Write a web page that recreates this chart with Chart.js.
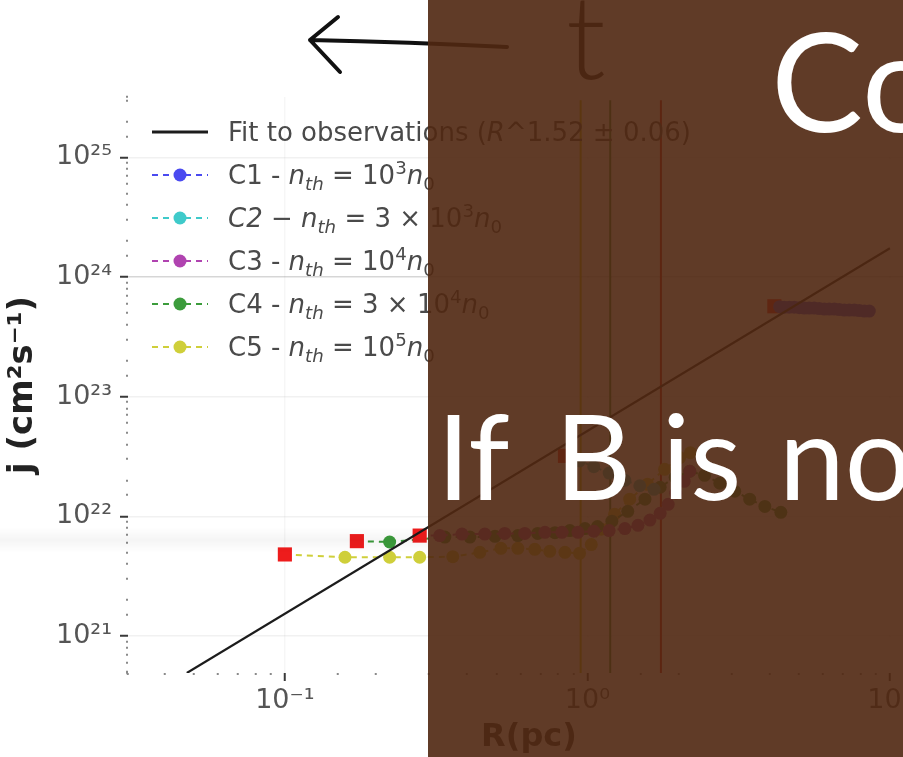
<!DOCTYPE html>
<html>
<head>
<meta charset="utf-8">
<script src="https://cdn.jsdelivr.net/npm/chart.js@4"></script>
<style>
  html, body { margin: 0; padding: 0; width: 903px; height: 757px; overflow: hidden; background: #fff; }
  #wrap { position: absolute; left: 0; top: 0; width: 980px; height: 757px; }
  #band { position: absolute; left: 0; top: 527px; width: 428px; height: 26px;
          background: linear-gradient(rgba(0,0,0,0), rgba(0,0,0,0.04), rgba(0,0,0,0)); }
  .layer { position: absolute; left: 0; top: 0; }
  #shade { position: absolute; left: 428px; top: 0; width: 475px; height: 757px; background: rgba(80,40,18,0.91); }
</style>
</head>
<body>
<div id="wrap"><canvas id="chart" width="980" height="757"></canvas></div>
<div id="band"></div>
<svg class="layer" width="903" height="120">
  <path d="M338,17 L310,40 L340,72 M310,40 Q410,42 507,47" fill="none" stroke="#111" stroke-width="4" stroke-linecap="round" stroke-linejoin="round"/>
  <text x="566" y="79" font-family="Lato, sans-serif" font-weight="300" font-size="116" fill="#1a1a1a">t</text>
</svg>
<div id="shade"></div>
<svg class="layer" width="903" height="757">
  <text x="771" y="132" font-family="Lato, sans-serif" font-size="138" fill="#fff">Co</text>
  <text y="500" font-family="Lato, sans-serif" font-size="118" fill="#fff"><tspan x="437">If </tspan><tspan x="555">B </tspan><tspan x="662">is </tspan><tspan x="779">no</tspan></text>
</svg>
<script>
// Observational fit j ∝ R^1.52
const fitR = [0.0474, 10];
const fitJ = [4.9e20, 1.74e24];

// Model runs: radius R (pc) and j (cm^2 s^-1); first entry of each run is the red square
const c1R = [4.15, 4.32, 4.48, 4.65, 4.83, 5.02, 5.21, 5.41, 5.62, 5.84, 6.07, 6.30, 6.55, 6.80, 7.07, 7.34, 7.63, 7.92, 8.24, 8.55];
const c1J = [5.7e23, 5.65e23, 5.6e23, 5.6e23, 5.6e23, 5.55e23, 5.5e23, 5.5e23, 5.5e23, 5.45e23, 5.4e23, 5.4e23, 5.4e23, 5.35e23, 5.3e23, 5.3e23, 5.3e23, 5.25e23, 5.2e23, 5.2e23];

const c2R = [0.843, 0.942, 1.05, 1.18, 1.33, 1.49, 1.66];
const c2J = [3.2e22, 2.9e22, 2.6e22, 2.3e22, 2.0e22, 1.8e22, 1.68e22];

const c3R = [0.279, 0.325, 0.385, 0.458, 0.533, 0.621, 0.724, 0.824, 0.931, 1.05, 1.18, 1.33, 1.47, 1.61, 1.74, 1.85, 1.96, 2.09, 2.18];
const c3J = [6.9e21, 6.9e21, 7.1e21, 7.1e21, 7.2e21, 7.2e21, 7.35e21, 7.35e21, 7.35e21, 7.5e21, 7.6e21, 7.9e21, 8.4e21, 9.3e21, 1.06e22, 1.26e22, 1.56e22, 1.96e22, 2.38e22];

const c4R = [0.173, 0.222, 0.338, 0.409, 0.495, 0.589, 0.685, 0.781, 0.875, 0.982, 1.08, 1.205, 1.36, 1.55, 1.74, 1.95, 2.18, 2.44, 2.74, 3.07, 3.44, 3.86, 4.36];
const c4J = [6.2e21, 6.1e21, 6.7e21, 6.7e21, 6.8e21, 6.9e21, 7.2e21, 7.3e21, 7.6e21, 7.9e21, 8.2e21, 9.1e21, 1.10e22, 1.39e22, 1.75e22, 2.12e22, 2.38e22, 2.2e22, 1.89e22, 1.62e22, 1.39e22, 1.21e22, 1.08e22];

const c5R = [0.100, 0.158, 0.222, 0.279, 0.359, 0.441, 0.518, 0.589, 0.670, 0.751, 0.843, 0.942, 1.03, 1.11, 1.23, 1.38, 1.58, 1.80, 2.02, 2.19];
const c5J = [4.8e21, 4.55e21, 4.55e21, 4.55e21, 4.6e21, 5.0e21, 5.4e21, 5.4e21, 5.3e21, 5.1e21, 5.0e21, 4.9e21, 5.8e21, 7.8e21, 1.04e22, 1.39e22, 1.85e22, 2.47e22, 3.1e22, 3.4e22];

// Vertical markers at characteristic radii
const markR = [0.95, 1.19, 1.75];
const markColors = ['#c2c200', '#2f8a2f', '#d01010'];
const markTop = 3.0e25;

// Axis ranges
const xMin = 0.0303, xMax = 13.57;
const yMin = 4.9e20, yMax = 3.2e25;

const seriesColors = ['#4a4af0', '#3fcaca', '#b043b0', '#3c9c3c', '#cfcf3a'];
const startColor = '#ee1c1c';

const legendLabels = [
  [['Fit to observations (', ''], ['R', 'i'], ['^1.52 ± 0.06)', '']],
  [['C1 - ', ''], ['n', 'i'], ['th', 'isub'], [' = 10', ''], ['3', 'sup'], ['n', 'i'], ['0', 'sub']],
  [['C2', 'i'], [' − ', ''], ['n', 'i'], ['th', 'isub'], [' = 3 × 10', ''], ['3', 'sup'], ['n', 'i'], ['0', 'sub']],
  [['C3 - ', ''], ['n', 'i'], ['th', 'isub'], [' = 10', ''], ['4', 'sup'], ['n', 'i'], ['0', 'sub']],
  [['C4 - ', ''], ['n', 'i'], ['th', 'isub'], [' = 3 × 10', ''], ['4', 'sup'], ['n', 'i'], ['0', 'sub']],
  [['C5 - ', ''], ['n', 'i'], ['th', 'isub'], [' = 10', ''], ['5', 'sup'], ['n', 'i'], ['0', 'sub']]
];

const pts = (R, J) => R.map((r, i) => ({ x: r, y: J[i] }));
const SUP = '⁰¹²³⁴⁵⁶⁷⁸⁹';
const sup = s => String(s).split('').map(c => c === '-' ? '⁻' : SUP['0123456789'.indexOf(c)]).join('');
const isDecade = v => { const l = Math.log10(v); return Math.abs(l - Math.round(l)) < 1e-6; };
const decadeLabel = v => isDecade(v) ? '10' + sup(Math.round(Math.log10(v))) : '';

function runDataset(R, J, color) {
  return {
    data: pts(R, J),
    showLine: true,
    borderColor: color,
    borderWidth: 2,
    borderDash: [6, 5],
    pointStyle: c => c.dataIndex === 0 ? 'rect' : 'circle',
    pointRadius: c => c.dataIndex === 0 ? 10 : 6.5,
    pointBackgroundColor: c => c.dataIndex === 0 ? startColor : color,
    pointBorderWidth: 0,
    order: 1
  };
}

const datasets = [
  { data: pts(fitR, fitJ), showLine: true, borderColor: '#1c1c1c', borderWidth: 2.2, pointRadius: 0, order: 0 },
  ...markR.map((r, i) => ({ data: pts([r, r], [markTop, yMin]), showLine: true, borderColor: markColors[i], borderWidth: 2, pointRadius: 0, order: 2 })),
  runDataset(c1R, c1J, seriesColors[0]),
  runDataset(c2R, c2J, seriesColors[1]),
  runDataset(c3R, c3J, seriesColors[2]),
  runDataset(c4R, c4J, seriesColors[3]),
  runDataset(c5R, c5J, seriesColors[4])
];

// Legend with mathematical sub/superscripts
function drawRich(ctx, x, y, segs, size) {
  const fam = '"DejaVu Sans", sans-serif';
  for (const [t, k] of segs) {
    let f = size, dy = 0, st = '';
    if (k === 'i') st = 'italic ';
    if (k === 'isub') { st = 'italic '; f = size * 0.7; dy = size * 0.22; }
    if (k === 'sub') { f = size * 0.7; dy = size * 0.22; }
    if (k === 'sup') { f = size * 0.7; dy = -size * 0.38; }
    ctx.font = st + f + 'px ' + fam;
    ctx.fillText(t, x, y + dy);
    x += ctx.measureText(t).width;
  }
}

const legendPlugin = {
  id: 'richLegend',
  afterDatasetsDraw(chart) {
    const ctx = chart.ctx;
    ctx.save();
    const x0 = 152, x1 = 208, tx = 228, y0 = 132, dy = 43;
    legendLabels.forEach((segs, i) => {
      const y = y0 + i * dy;
      ctx.lineWidth = 2.2;
      if (i === 0) {
        ctx.setLineDash([]);
        ctx.strokeStyle = '#1c1c1c';
        ctx.lineWidth = 3;
      } else {
        ctx.setLineDash([6, 5]);
        ctx.strokeStyle = seriesColors[i - 1];
      }
      ctx.beginPath(); ctx.moveTo(x0, y); ctx.lineTo(x1, y); ctx.stroke();
      if (i > 0) {
        ctx.setLineDash([]);
        ctx.fillStyle = seriesColors[i - 1];
        ctx.beginPath(); ctx.arc((x0 + x1) / 2, y, 6.5, 0, Math.PI * 2); ctx.fill();
      }
      ctx.fillStyle = '#4a4a4a';
      ctx.textBaseline = 'alphabetic';
      drawRich(ctx, tx, y + 9, segs, 26);
    });
    ctx.restore();
  }
};

const gridColor = axis => c => {
  if (!c.tick || !isDecade(c.tick.value)) return 'rgba(0,0,0,0)';
  if (axis === 'y' && Math.round(Math.log10(c.tick.value)) === 24) return 'rgba(0,0,0,0.16)';
  return axis === 'y' ? 'rgba(0,0,0,0.055)' : 'rgba(0,0,0,0.035)';
};
const tickOpts = (minorDash) => ({
  tickLength: 8,
  tickWidth: 2,
  tickColor: c => c.tick && isDecade(c.tick.value) ? '#3a3a3a' : '#8a8a8a',
  tickBorderDash: c => c.tick && isDecade(c.tick.value) ? [] : minorDash,
  lineWidth: 1.5
});

new Chart(document.getElementById('chart'), {
  type: 'scatter',
  data: { datasets },
  plugins: [legendPlugin],
  options: {
    responsive: false,
    animation: false,
    layout: { padding: { top: 97, right: 50, left: 0, bottom: 0 } },
    plugins: { legend: { display: false }, tooltip: { enabled: false } },
    scales: {
      x: {
        type: 'logarithmic', min: xMin, max: xMax,
        border: { display: false },
        grid: { color: gridColor('x'), ...tickOpts([2, 30]) },
        ticks: { autoSkip: false, maxRotation: 0, padding: 4, color: '#555',
                 font: { family: 'DejaVu Sans', size: 27 }, callback: decadeLabel },
        title: { display: true, text: 'R(pc)', color: '#333', padding: { bottom: 0, top: 0 },
                 font: { family: 'DejaVu Sans', size: 32, weight: 'bold' } },
        afterFit: s => { s.height = 84; }
      },
      y: {
        type: 'logarithmic', min: yMin, max: yMax,
        border: { display: false },
        grid: { color: gridColor('y'), ...tickOpts([0, 6, 2, 30]) },
        ticks: { autoSkip: false, padding: 8, color: '#555',
                 font: { family: 'DejaVu Sans', size: 27 }, callback: decadeLabel },
        title: { display: true, text: 'j (cm²s⁻¹)', color: '#222', padding: { top: 3, bottom: 0 },
                 font: { family: 'DejaVu Sans', size: 34, weight: 'bold' } },
        afterFit: s => { s.width = 128; }
      }
    }
  }
});
</script>
</body>
</html>
